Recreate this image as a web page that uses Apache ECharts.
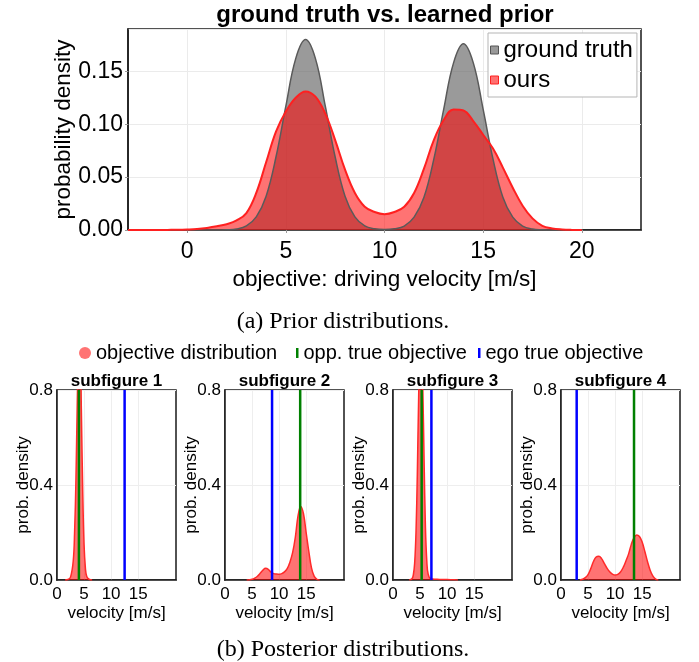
<!DOCTYPE html>
<html>
<head>
<meta charset="utf-8">
<script src="https://cdn.jsdelivr.net/npm/echarts@6/dist/echarts.min.js"></script>
<style>
html,body{margin:0;padding:0;background:#fff;}
#chart{width:699px;height:662px;}
</style>
</head>
<body>
<div id="chart"></div>
<script>
// ---------- data: prior distributions ----------
const priorX = [-3,-2.5,-2,-1.5,-1,-0.5,0,0.5,1,1.5,2,2.5,3,3.5,4,4.5,5,5.5,6,6.5,7,7.5,8,8.5,9,9.5,10,10.5,11,11.5,12,12.5,13,13.5,14,14.5,15,15.5,16,16.5,17,17.5,18,18.5,19,19.5,20];
const groundTruth = [0,0,0,0,0,0,0,0,0,0,0.0002,0.0009,0.0038,0.0124,0.032,0.069,0.117,0.162,0.18,0.162,0.117,0.069,0.032,0.0124,0.0038,0.0011,0.0004,0.0011,0.0037,0.0121,0.031,0.067,0.114,0.158,0.176,0.158,0.114,0.067,0.031,0.0121,0.0037,0.0009,0.0002,0,0,0,0];
const ours = [0,0,0,0,0.0001,0.0002,0.0005,0.001,0.002,0.0035,0.0055,0.009,0.016,0.035,0.064,0.093,0.112,0.125,0.131,0.126,0.11,0.085,0.057,0.035,0.022,0.017,0.015,0.017,0.022,0.035,0.058,0.085,0.104,0.114,0.113,0.103,0.09,0.077,0.059,0.04,0.023,0.011,0.004,0.0015,0.0005,0.0001,0];
const priorTicks = [0,5,10,15,20];

// ---------- data: posterior distributions ----------
const sub1X = [1.5,2,2.5,3,3.25,3.5,3.75,4,4.25,4.5,4.75,5,5.25,5.5,6,6.5];
const sub1Y = [0,0.002,0.012,0.08,0.2,0.42,0.75,1.0,1.02,0.72,0.38,0.15,0.05,0.015,0.002,0];
const sub2X = [4,4.5,5,5.5,6,6.5,7,7.5,8,8.5,9,9.5,10,10.5,11,11.5,12,12.5,13,13.5,14,14.5,15,15.5,16,16.5,17,17.5];
const sub2Y = [0,0.001,0.003,0.008,0.016,0.028,0.041,0.049,0.045,0.033,0.027,0.025,0.024,0.027,0.034,0.048,0.075,0.115,0.18,0.27,0.31,0.28,0.2,0.12,0.05,0.015,0.003,0];
const sub3X = [3,3.5,3.75,4,4.25,4.5,4.75,5,5.25,5.5,5.75,6,6.25,6.5,7,8,9,10,11,12];
const sub3Y = [0,0.005,0.02,0.07,0.2,0.45,0.78,0.98,1.0,0.82,0.5,0.22,0.08,0.025,0.005,0.003,0.002,0.002,0.001,0];
const sub4X = [3.5,4,4.5,5,5.5,6,6.5,7,7.5,8,8.5,9,9.5,10,10.5,11,11.5,12,12.5,13,13.5,14,14.5,15,15.5,16,16.5,17,17.5,18];
const sub4Y = [0,0.003,0.01,0.023,0.048,0.078,0.097,0.1,0.09,0.07,0.05,0.035,0.025,0.021,0.024,0.034,0.053,0.08,0.11,0.15,0.178,0.19,0.183,0.16,0.12,0.077,0.04,0.016,0.004,0];
const oppTrue = [4.05, 13.9, 5.3, 13.5];
const egoTrue = [12.5, 8.7, 7.1, 2.9];
const subTitles = ['subfigure 1','subfigure 2','subfigure 3','subfigure 4'];
const postTicks = [0,5,10,15];
const postYMax = 0.8;

// ---------- build ----------
const FONT = '"Liberation Sans", Arial, Helvetica, sans-serif';
const SERIF = '"Liberation Serif", "Times New Roman", serif';
const zip = (xs, ys) => xs.map((x, i) => [x, ys[i]]);
const subX = [sub1X, sub2X, sub3X, sub4X];
const subY = [sub1Y, sub2Y, sub3Y, sub4Y];
const subLeft = [57, 225, 393, 561];
const subW = 119;

const grids = [{left:128, top:29, width:513, height:201, show:true, borderColor:'#1a1a1a', borderWidth:1.5}];
subLeft.forEach(l => grids.push({left:l, top:390, width:subW, height:190, show:true, borderColor:'#1a1a1a', borderWidth:1.5}));

const xAxes = [{
  gridIndex:0, type:'value', min:-3, max:23,
  name:'objective: driving velocity [m/s]', nameLocation:'middle', nameGap:38, nameMoveOverlap:false,
  nameTextStyle:{fontSize:22.5, color:'#000', fontFamily:FONT},
  axisLabel:{customValues:priorTicks, fontSize:23, color:'#000', margin:10, fontFamily:FONT},
  axisTick:{customValues:priorTicks, show:true, length:3, lineStyle:{color:'#999'}},
  axisLine:{show:true, onZero:false, lineStyle:{color:'#1a1a1a', width:1.5}},
  splitLine:{show:true, lineStyle:{color:'#ebebeb'}}
}];
const yAxes = [{
  gridIndex:0, type:'value', min:0, max:0.19, interval:0.05,
  name:'probability density', nameLocation:'middle', nameGap:53, nameMoveOverlap:false,
  nameTextStyle:{fontSize:22.5, color:'#000', fontFamily:FONT},
  axisLabel:{fontSize:23, color:'#000', margin:5, fontFamily:FONT, showMaxLabel:false, formatter:v=>v.toFixed(2)},
  axisTick:{show:true, length:3, lineStyle:{color:'#999'}},
  axisLine:{show:true, onZero:false, lineStyle:{color:'#1a1a1a', width:1.5}},
  splitLine:{show:true, lineStyle:{color:'#ebebeb'}}
}];
for (let i = 0; i < 4; i++) {
  xAxes.push({
    gridIndex:i+1, type:'value', min:0, max:22,
    name:'velocity [m/s]', nameLocation:'middle', nameGap:25, nameMoveOverlap:false,
    nameTextStyle:{fontSize:17, color:'#000', fontFamily:FONT},
    axisLabel:{customValues:postTicks, fontSize:17, color:'#000', margin:6, fontFamily:FONT},
    axisTick:{customValues:postTicks, show:false},
    axisLine:{show:true, onZero:false, lineStyle:{color:'#1a1a1a', width:1.5}},
    splitLine:{show:true, lineStyle:{color:'#eeeeee'}}
  });
  yAxes.push({
    gridIndex:i+1, type:'value', min:0, max:postYMax, interval:0.4,
    name:'prob. density', nameLocation:'middle', nameGap:25, nameMoveOverlap:false,
    nameTextStyle:{fontSize:17, color:'#000', fontFamily:FONT},
    axisLabel:{fontSize:17, color:'#000', margin:4, fontFamily:FONT, formatter:v=>v.toFixed(1)},
    axisTick:{show:false},
    axisLine:{show:true, onZero:false, lineStyle:{color:'#1a1a1a', width:1.5}},
    splitLine:{show:true, lineStyle:{color:'#eeeeee'}}
  });
}

const series = [
  {name:'ground truth', type:'line', xAxisIndex:0, yAxisIndex:0, data:zip(priorX, groundTruth),
   smooth:0.4, symbol:'none', lineStyle:{color:'#5a5a5a', width:1.5},
   itemStyle:{color:'#999999'}, areaStyle:{color:'rgba(100,100,100,0.65)', opacity:1}},
  {name:'ours', type:'line', xAxisIndex:0, yAxisIndex:0, data:zip(priorX, ours),
   smooth:0.4, symbol:'none', lineStyle:{color:'#ff2020', width:2},
   itemStyle:{color:'#ff7070'}, areaStyle:{color:'rgba(255,0,0,0.55)', opacity:1}}
];
for (let i = 0; i < 4; i++) {
  series.push({name:'objective distribution', type:'line', xAxisIndex:i+1, yAxisIndex:i+1,
    data:zip(subX[i], subY[i]), smooth:0.4, symbol:'none', clip:true,
    lineStyle:{color:'#ff2a2a', width:1.5}, itemStyle:{color:'#ff7373'},
    areaStyle:{color:'rgba(255,0,0,0.55)', opacity:1}});
  series.push({name:'opp. true objective', type:'line', xAxisIndex:i+1, yAxisIndex:i+1,
    data:[[oppTrue[i],0],[oppTrue[i],postYMax]], symbol:'none',
    lineStyle:{color:'#008000', width:2.5}, itemStyle:{color:'#008000'}});
  series.push({name:'ego true objective', type:'line', xAxisIndex:i+1, yAxisIndex:i+1,
    data:[[egoTrue[i],0],[egoTrue[i],postYMax]], symbol:'none',
    lineStyle:{color:'#0000ff', width:2.5}, itemStyle:{color:'#0000ff'}});
}

const graphic = [
  {type:'text', x:385, y:15, style:{text:'ground truth vs. learned prior', font:'bold 24px ' + FONT, fill:'#000', align:'center', verticalAlign:'middle'}},
  {type:'text', x:343, y:322, style:{text:'(a) Prior distributions.', font:'24px ' + SERIF, fill:'#000', align:'center', verticalAlign:'middle'}},
  {type:'text', x:343, y:650, style:{text:'(b) Posterior distributions.', font:'24px ' + SERIF, fill:'#000', align:'center', verticalAlign:'middle'}}
];
subTitles.forEach((t, i) => graphic.push({type:'text', x:subLeft[i] + subW / 2, y:381,
  style:{text:t, font:'bold 17px ' + FONT, fill:'#000', align:'center', verticalAlign:'middle'}}));

const legends = [
  {data:[{name:'ground truth', icon:'rect', itemStyle:{color:'#999999', borderColor:'#555555', borderWidth:1}},
         {name:'ours', icon:'rect', itemStyle:{color:'#ff7070', borderColor:'#ff2020', borderWidth:1}}],
   orient:'vertical', left:488, top:33, itemWidth:8, itemHeight:8, itemGap:6,
   padding:[5,4,5,2], borderColor:'#b5b5b5', borderWidth:1, backgroundColor:'#fff',
   selectedMode:false, textStyle:{fontSize:24, color:'#000', fontFamily:FONT, lineHeight:24}},
  {data:[{name:'objective distribution', icon:'circle', itemStyle:{color:'#ff7373'}}],
   left:79, top:343, padding:0, itemWidth:12, itemHeight:12, selectedMode:false,
   textStyle:{fontSize:20, color:'#000', fontFamily:FONT, lineHeight:20}},
  {data:[{name:'opp. true objective', icon:'rect', itemStyle:{color:'#008000'}}],
   left:296, top:343, padding:0, itemWidth:2.5, itemHeight:10, selectedMode:false,
   textStyle:{fontSize:20, color:'#000', fontFamily:FONT, lineHeight:20}},
  {data:[{name:'ego true objective', icon:'rect', itemStyle:{color:'#0000ff'}}],
   left:478, top:343, padding:0, itemWidth:2.5, itemHeight:10, selectedMode:false,
   textStyle:{fontSize:20, color:'#000', fontFamily:FONT, lineHeight:20}}
];

const chart = echarts.init(document.getElementById('chart'), null, {renderer:'canvas'});
chart.setOption({
  animation:false,
  backgroundColor:'#fff',
  textStyle:{fontFamily:FONT},
  grid:grids, xAxis:xAxes, yAxis:yAxes, series:series, legend:legends, graphic:graphic
});
</script>
</body>
</html>
